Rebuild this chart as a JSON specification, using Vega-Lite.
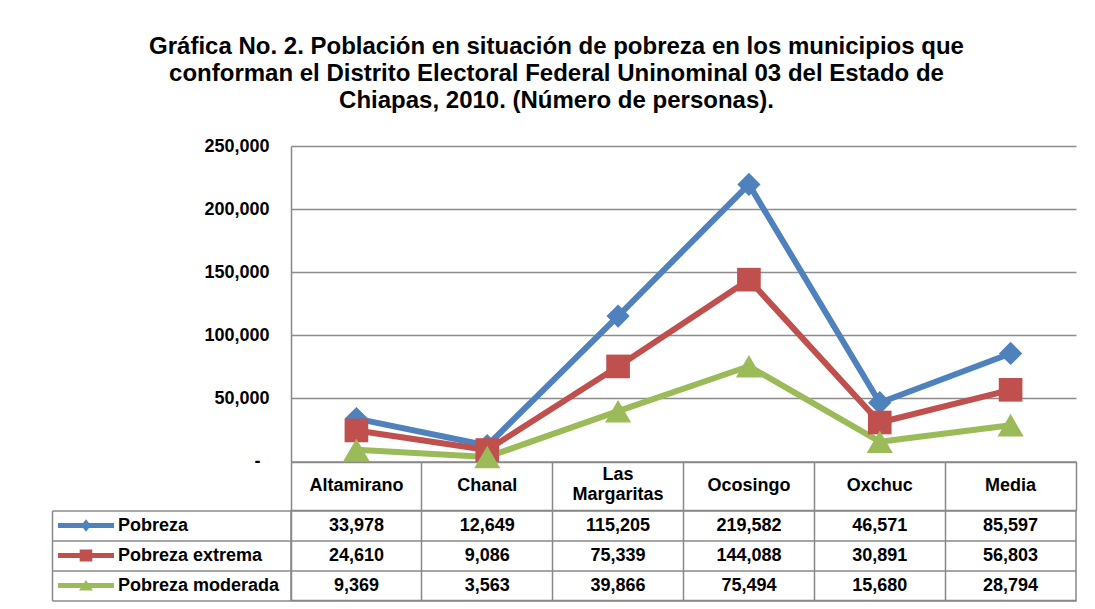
{
  "$schema": "https://vega.github.io/schema/vega-lite/v6.json",
  "padding": {"left": 50, "top": 35, "right": 10, "bottom": 5},
  "background": "white",
  "config": {"font": "Liberation Sans"},
  "title": {
    "text": ["Gráfica No. 2. Población en situación de pobreza en los municipios que", "conforman el Distrito Electoral Federal Uninominal 03 del Estado de", "Chiapas, 2010. (Número de personas)."],
    "fontSize": 24, "fontWeight": "bold", "font": "Liberation Sans", "color": "black",
    "lineHeight": 27, "anchor": "middle", "frame": "group", "dx": -127, "offset": 24
  },
  "datasets": {
    "d": [
      {"categoria": "Altamirano", "serie": "Pobreza", "valor": 33978},
      {"categoria": "Chanal", "serie": "Pobreza", "valor": 12649},
      {"categoria": "Las Margaritas", "serie": "Pobreza", "valor": 115205},
      {"categoria": "Ocosingo", "serie": "Pobreza", "valor": 219582},
      {"categoria": "Oxchuc", "serie": "Pobreza", "valor": 46571},
      {"categoria": "Media", "serie": "Pobreza", "valor": 85597},
      {"categoria": "Altamirano", "serie": "Pobreza extrema", "valor": 24610},
      {"categoria": "Chanal", "serie": "Pobreza extrema", "valor": 9086},
      {"categoria": "Las Margaritas", "serie": "Pobreza extrema", "valor": 75339},
      {"categoria": "Ocosingo", "serie": "Pobreza extrema", "valor": 144088},
      {"categoria": "Oxchuc", "serie": "Pobreza extrema", "valor": 30891},
      {"categoria": "Media", "serie": "Pobreza extrema", "valor": 56803},
      {"categoria": "Altamirano", "serie": "Pobreza moderada", "valor": 9369},
      {"categoria": "Chanal", "serie": "Pobreza moderada", "valor": 3563},
      {"categoria": "Las Margaritas", "serie": "Pobreza moderada", "valor": 39866},
      {"categoria": "Ocosingo", "serie": "Pobreza moderada", "valor": 75494},
      {"categoria": "Oxchuc", "serie": "Pobreza moderada", "valor": 15680},
      {"categoria": "Media", "serie": "Pobreza moderada", "valor": 28794}
    ]
  },
  "spacing": 48.5,
  "bounds": "flush",
  "vconcat": [
    {
      "width": 785,
      "height": 315.5,
      "view": {"stroke": null},
      "data": {"name": "d"},
      "encoding": {
        "x": {
          "field": "categoria", "type": "nominal",
          "sort": ["Altamirano", "Chanal", "Las Margaritas", "Ocosingo", "Oxchuc", "Media"],
          "scale": {"type": "band", "paddingInner": 0, "paddingOuter": 0},
          "axis": {
            "title": null, "orient": "bottom", "grid": false,
            "domain": true, "domainColor": "#888888", "domainWidth": 1.5,
            "ticks": true, "bandPosition": 1, "tickExtra": true, "tickSize": 48.5, "tickColor": "#888888", "tickWidth": 1.5,
            "labelAngle": 0, "labelBaseline": "middle",
            "labelPadding": {"expr": "datum.label === 'Las Margaritas' ? -35.5 : -25"},
            "labelFontSize": 18, "labelFontWeight": "bold", "labelColor": "black", "labelLineHeight": 20,
            "labelExpr": "datum.label === 'Las Margaritas' ? ['Las', 'Margaritas'] : datum.label"
          }
        },
        "y": {
          "field": "valor", "type": "quantitative",
          "scale": {"domain": [0, 250000], "nice": false},
          "axis": {
            "title": null, "values": [0, 50000, 100000, 150000, 200000, 250000],
            "grid": true, "gridColor": "#8c8c8c", "gridWidth": 1.5,
            "domain": true, "domainColor": "#888888", "domainWidth": 1.5,
            "ticks": false,
            "labelPadding": {"expr": "datum.value === 0 ? 31 : 22"},
            "labelFontSize": 18, "labelFontWeight": "bold", "labelColor": "black",
            "labelExpr": "datum.value === 0 ? '-' : format(datum.value, ',d')"
          }
        },
        "color": {
          "field": "serie", "type": "nominal",
          "scale": {"domain": ["Pobreza", "Pobreza extrema", "Pobreza moderada"], "range": ["#4F81BD", "#C0504D", "#9BBB59"]},
          "legend": {
            "orient": "none", "legendX": -214, "legendY": 370.5,
            "title": null, "padding": 0,
            "symbolSize": 196, "symbolStrokeWidth": 0, "symbolOpacity": 1,
            "labelFont": "Liberation Sans", "labelFontSize": 18, "labelFontWeight": "bold", "labelColor": "black",
            "labelOffset": 23, "rowPadding": 12, "labelLimit": 300,
            "encode": {
              "symbols": {
                "update": {
                  "shape": {"signal": "datum.value === 'Pobreza' ? 'M-4,-0.36L4,-0.36L4,0.36L-4,0.36Z M0,-0.9L0.7,0L0,0.9L-0.7,0Z' : datum.value === 'Pobreza extrema' ? 'M-4,-0.36L4,-0.36L4,0.36L-4,0.36Z M-0.9,-0.85L0.9,-0.85L0.9,0.85L-0.9,0.85Z' : 'M-4,-0.36L4,-0.36L4,0.36L-4,0.36Z M0,-0.8L1,0.7L-1,0.7Z'"},
                  "fill": {"signal": "datum.value === 'Pobreza' ? '#4F81BD' : datum.value === 'Pobreza extrema' ? '#C0504D' : '#9BBB59'"},
                  "strokeWidth": {"value": 0},
                  "opacity": {"value": 1}
                }
              }
            }
          }
        }
      },
      "layer": [
        {"mark": {"type": "line", "strokeWidth": 6, "strokeJoin": "round", "strokeCap": "round"}},
        {
          "transform": [{"filter": "datum.serie === 'Pobreza'"}],
          "mark": {"type": "point", "filled": true, "opacity": 1, "shape": "diamond", "size": 540}
        },
        {
          "transform": [{"filter": "datum.serie === 'Pobreza extrema'"}],
          "mark": {"type": "point", "filled": true, "opacity": 1, "shape": "square", "size": 560}
        },
        {
          "transform": [{"filter": "datum.serie === 'Pobreza moderada'"}],
          "mark": {"type": "point", "filled": true, "opacity": 1, "shape": "triangle-up", "size": 680}
        }
      ]
    },
    {
      "width": 785,
      "height": 90,
      "view": {"stroke": "#888888", "strokeWidth": 1.5},
      "data": {"name": "d"},
      "mark": {"type": "text", "fontSize": 18, "fontWeight": "bold", "color": "black", "baseline": "middle", "font": "Liberation Sans"},
      "encoding": {
        "x": {
          "field": "categoria", "type": "nominal",
          "sort": ["Altamirano", "Chanal", "Las Margaritas", "Ocosingo", "Oxchuc", "Media"],
          "scale": {"type": "band", "paddingInner": 0, "paddingOuter": 0},
          "axis": {"title": null, "orient": "top", "labels": false, "ticks": false, "domain": false, "grid": true, "bandPosition": 0, "gridColor": "#888888", "gridWidth": 1.5}
        },
        "y": {
          "field": "serie", "type": "nominal",
          "sort": ["Pobreza", "Pobreza extrema", "Pobreza moderada"],
          "scale": {"type": "band", "paddingInner": 0, "paddingOuter": 0},
          "axis": {"title": null, "orient": "left", "offset": 239, "domain": true, "domainColor": "#888888", "domainWidth": 1.5, "ticks": true, "tickSize": -1024, "tickColor": "#888888", "tickWidth": 1.5, "bandPosition": 1, "tickExtra": true, "labels": false, "grid": false}
        },
        "text": {"field": "valor", "type": "quantitative", "format": ",d"}
      }
    }
  ]
}
